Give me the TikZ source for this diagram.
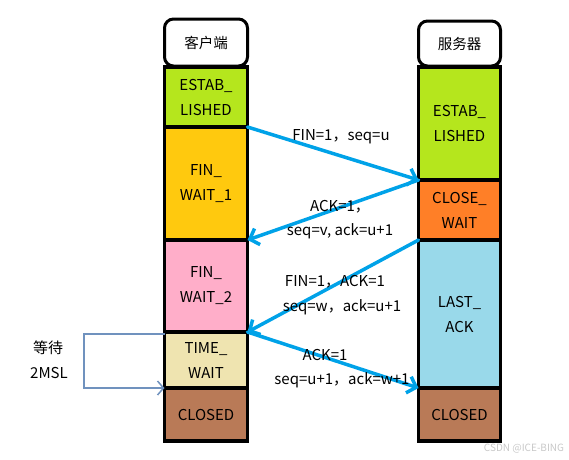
\documentclass[tikz,border=0pt]{standalone}
\usepackage{fontspec}
\setmainfont{Noto Sans CJK SC}
\usetikzlibrary{arrows.meta,positioning}
\definecolor{estab}{HTML}{B5E61D}
\definecolor{finone}{HTML}{FFC90E}
\definecolor{fintwo}{HTML}{FFAEC9}
\definecolor{timew}{HTML}{EFE4B0}
\definecolor{closed}{HTML}{B97A57}
\definecolor{closew}{HTML}{FF7F27}
\definecolor{lastack}{HTML}{99D9EA}
\definecolor{msg}{HTML}{00A2E8}
\definecolor{waitline}{HTML}{7092BE}
\definecolor{wmark}{HTML}{C8C8C8}
\tikzset{
  head/.style={draw=black, line width=3pt, rounded corners=9pt, fill=white, outer sep=0pt, font=\fontsize{14.5}{25}\selectfont},
  state/.style={draw=black, line width=3.5pt, outer sep=0pt, inner sep=0pt, align=center, font=\fontsize{15}{25}\selectfont},
  msgarrow/.style={draw=msg, line width=3.5pt, line cap=round, -{Straight Barb[length=8pt,width=17pt]}},
  waitarrow/.style={draw=waitline, line width=1.5pt, -{Straight Barb[length=6pt,width=14pt]}},
  lab/.style={inner sep=0pt, font=\fontsize{15}{25}\selectfont},
}
\begin{document}
\begin{tikzpicture}[x=1pt,y=-1pt]
  \useasboundingbox (0,0) rectangle (569,459);
  % headers
  \node[head, minimum width=83pt, minimum height=47pt] (cHead) at (206,42.5) {客户端};
  \node[head, minimum width=82pt, minimum height=45pt] (sHead) at (459.5,43.5) {服务器};
  % client states
  \foreach \n/\y/\h/\c/\t in {cEst/97/60/estab/{ESTAB\_\\LISHED},
      cFw1/183.5/113/finone/{FIN\_\\WAIT\_1}, cFw2/286/92/fintwo/{FIN\_\\WAIT\_2},
      cTw/360/56/timew/{TIME\_\\WAIT}, cCl/414.5/53/closed/{CLOSED}}
    \node[state, fill=\c, minimum width=83pt, minimum height=\h pt] (\n) at (206,\y) {\t};
  % server states
  \foreach \n/\y/\h/\c/\t in {sEst/123.5/113/estab/{ESTAB\_\\LISHED},
      sClw/210/60/closew/{CLOSE\_\\WAIT}, sLa/314/148/lastack/{LAST\_\\ACK},
      sCl/414.5/53/closed/{CLOSED}}
    \node[state, fill=\c, minimum width=82pt, minimum height=\h pt] (\n) at (459.5,\y) {\t};
  % messages
  \draw[msgarrow] (cEst.south east) -- (sEst.south west);
  \draw[msgarrow] (sClw.north west) -- (cFw1.south east);
  \draw[msgarrow] (sClw.south west) -- (cFw2.south east);
  \draw[msgarrow] (cTw.north east) -- (sLa.south west);
  \foreach \n/\x/\y/\t in {l1/341/137/{FIN=1，seq=u}, l2a/340/207/{ACK=1，},
      l2b/340/231/{seq=v, ack=u+1}, l3a/335/282/{FIN=1，ACK=1},
      l3b/342/307/{seq=w，ack=u+1}, l4a/325/355/{ACK=1},
      l4b/342/380/{seq=u+1，ack=w+1}}
    \node[lab] (\n) at (\x,\y) {\t};
  % 2MSL wait
  \coordinate (wTop) at (84,334);
  \coordinate (wBot) at (84,388);
  \draw[waitarrow] ([yshift=-2pt]cTw.north west) -- (wTop) -- (wBot) -- (cTw.south west);
  \node[lab] (wait) at (48,348) {等待};
  \node[lab] (msl) at (49,373) {2MSL};
  \node[inner sep=0pt, text=wmark, font=\fontsize{10}{12}\selectfont] (wm) at (524,449) {CSDN @ICE-BING};
\end{tikzpicture}
\end{document}
